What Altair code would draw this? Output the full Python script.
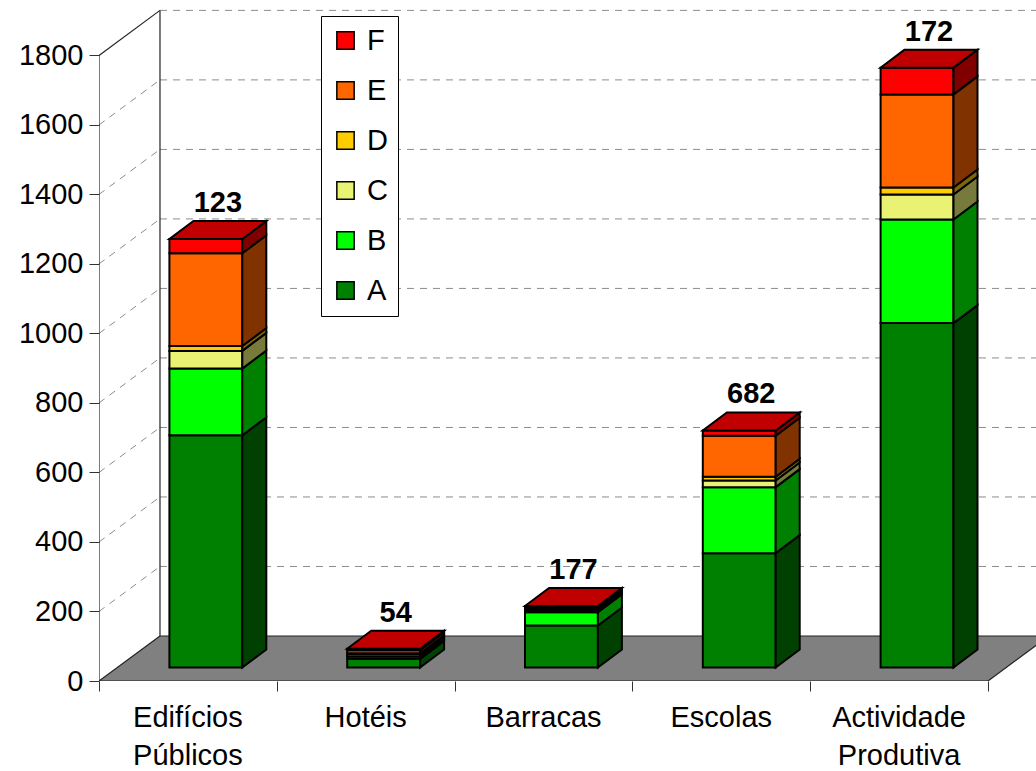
import altair as alt
import pandas as pd

# ---------------- data ----------------
categories = ["Edifícios Públicos", "Hotéis", "Barracas", "Escolas", "Actividade Produtiva"]
series_names = ["A", "B", "C", "D", "E", "F"]
A = [668, 25, 121, 329, 991]
B = [192, 7, 38, 190, 298]
C = [51, 6, 6, 19, 72]
D = [14, 3, 3, 11, 20]
E = [267, 9, 5, 118, 268]
F = [41, 4, 4, 15, 77]
total_labels = ["123", "54", "177", "682", "172"]
y_ticks = [0, 200, 400, 600, 800, 1000, 1200, 1400, 1600, 1800]
x_ticks = [0, 1, 2, 3, 4, 5]

# ---------------- styles ----------------
front_colors = {"A": "#008000", "B": "#00FF00", "C": "#EAF274",
                "D": "#FFCC00", "E": "#FF6600", "F": "#FF0000"}
side_colors = {"A": "#004000", "B": "#008000", "C": "#767A3A",
               "D": "#806600", "E": "#803300", "F": "#800000"}
top_color = "#C00000"
FONT = "Liberation Sans, Arial, sans-serif"

# 3D geometry, in data units (x: one unit per category, y: value units)
BAR_W = 0.41
SX, SY = 0.101, 38.8       # front plane of the bars
BDX, BDY = 0.135, 51.8     # depth of a bar
WDX, WDY = 0.343, 129.5    # depth of the walls / floor
XMAX, YMAX = 5.27, 1945
W, H = 937, 676

values = {"A": A, "B": B, "C": C, "D": D, "E": E, "F": F}
rows = []
for i, cat in enumerate(categories):
    base = 0
    for s in series_names:
        v = values[s][i]
        rows.append(dict(cat=cat, idx=i, series=s, v0=base, v1=base + v))
        base += v
seg = pd.DataFrame(rows)
seg["xl"] = seg.idx + 0.5 - BAR_W / 2 + SX
seg["xr"] = seg.xl + BAR_W
seg["y0"] = seg.v0 + SY
seg["y1"] = seg.v1 + SY

side_rows = []
top_rows = []
for _, r in seg.iterrows():
    for t in (0, 1):
        side_rows.append(dict(key=f"{r.idx}-{r.series}", series=r.series,
                              x=r.xr + t * BDX, lo=r.y0 + t * BDY, hi=r.y1 + t * BDY))
        if r.series == series_names[-1]:
            top_rows.append(dict(key=r.idx, y=r.y1 + t * BDY,
                                 xa=r.xl + t * BDX, xb=r.xr + t * BDX))
side_df = pd.DataFrame(side_rows)
top_df = pd.DataFrame(top_rows)

totals = seg.groupby("idx").v1.max().reset_index()
totals["label"] = total_labels
totals["x"] = totals.idx + 0.5 + SX + BDX / 2
totals["y"] = totals.v1 + SY + BDY

n = len(categories)
cat_df = pd.DataFrame({"x": [i + 0.5 for i in range(n)], "cat": categories})

xs = alt.Scale(domain=[0, XMAX], nice=False, zero=False)
ys = alt.Scale(domain=[0, YMAX], nice=False, zero=False)
xaxis = alt.Axis(values=x_ticks, tickSize=10, tickColor="#333333", labels=False,
                 domain=False, grid=False, title=None)
yaxis = alt.Axis(values=y_ticks, format="d", tickSize=10, tickColor="#333333",
                 labelFontSize=29, labelFont=FONT, labelColor="black", labelPadding=6,
                 domain=False, grid=False, title=None)


def X(f):
    return alt.X(f, scale=xs, axis=xaxis, stack=None)


def Y(f):
    return alt.Y(f, scale=ys, axis=yaxis, stack=None)


# ---------------- floor and walls ----------------
floor_df = pd.DataFrame({"x": [0, WDX, n, n + WDX],
                         "lo": [0, 0, 0, WDY], "hi": [0, WDY, WDY, WDY]})
floor = alt.Chart(floor_df).mark_area(color="#808080", orient="vertical", clip=True).encode(
    x=X("x:Q"), y=Y("lo:Q"), y2="hi:Q")

back_grid_df = pd.DataFrame({"v": [v + WDY for v in y_ticks[1:]], "x": WDX, "x2": XMAX})
back_grid = alt.Chart(back_grid_df).mark_rule(color="#8c8c8c", strokeDash=[7, 6], strokeWidth=1).encode(
    x=X("x:Q"), x2="x2:Q", y=Y("v:Q"))

left_grid_df = pd.DataFrame({"v": y_ticks[1:-1]})
left_grid_df["v2"] = left_grid_df.v + WDY
left_grid_df["x"] = 0
left_grid_df["x2"] = WDX
left_grid = alt.Chart(left_grid_df).mark_rule(color="#8c8c8c", strokeDash=[7, 6], strokeWidth=1).encode(
    x=X("x:Q"), x2="x2:Q", y=Y("v:Q"), y2="v2:Q")

edge_df = pd.DataFrame([
    dict(x=0, x2=WDX, y=0, y2=WDY),                              # floor left edge
    dict(x=0, x2=WDX, y=y_ticks[-1], y2=y_ticks[-1] + WDY),      # left wall top edge
    dict(x=WDX, x2=WDX, y=WDY, y2=y_ticks[-1] + WDY),            # back wall left edge
    dict(x=WDX, x2=XMAX, y=WDY, y2=WDY),                         # floor back edge
    dict(x=n, x2=n + WDX, y=0, y2=WDY),                          # floor right edge
    dict(x=0, x2=n, y=0, y2=0),                                  # front axis
    dict(x=0, x2=0, y=0, y2=y_ticks[-1]),                        # value axis
])
edges = alt.Chart(edge_df).mark_rule(color="#222222", strokeWidth=1.2, clip=True).encode(
    x=X("x:Q"), x2="x2:Q", y=Y("y:Q"), y2="y2:Q")

# ---------------- bars ----------------
front = alt.Chart(seg).mark_rect(stroke="black", strokeWidth=2).encode(
    x=X("xl:Q"), x2="xr:Q", y=Y("y0:Q"), y2="y1:Q",
    color=alt.Color("series:N",
                    scale=alt.Scale(domain=series_names[::-1],
                                    range=[front_colors[s] for s in series_names[::-1]]),
                    legend=alt.Legend(title=None, orient="none", legendX=222, legendY=11,
                                      symbolType="square", symbolSize=300,
                                      symbolStrokeColor="black", symbolStrokeWidth=1.5,
                                      labelFontSize=29, labelFont=FONT, labelColor="black",
                                      labelOffset=7, rowPadding=20, padding=10,
                                      strokeColor="black", fillColor="white")))

side = alt.Chart(side_df).mark_area(stroke="black", strokeWidth=2, orient="vertical").encode(
    x=X("x:Q"), y=Y("lo:Q"), y2="hi:Q", detail="key:N",
    fill=alt.Fill("series:N",
                  scale=alt.Scale(domain=series_names,
                                  range=[side_colors[s] for s in series_names]),
                  legend=None))

top = alt.Chart(top_df).mark_area(color=top_color, stroke="black", strokeWidth=2,
                                  orient="horizontal").encode(
    y=Y("y:Q"), x=X("xa:Q"), x2="xb:Q", detail="key:N")

total_text = alt.Chart(totals).mark_text(dy=-9, baseline="alphabetic", fontWeight="bold",
                                         fontSize=29, font=FONT, color="black").encode(
    x=X("x:Q"), y=Y("y:Q"), text="label:N")

cat_text = alt.Chart(cat_df).mark_text(lineBreak=" ", lineHeight=38, baseline="alphabetic",
                                       fontSize=29, font=FONT, color="black").encode(
    x=X("x:Q"), y=alt.value(722), text="cat:N")

chart = alt.layer(floor, back_grid, left_grid, edges, front, side, top, total_text, cat_text).properties(
    width=W, height=H,
    padding={"left": 99, "top": 5, "right": 0, "bottom": 90},
    autosize=alt.AutoSizeParams(type="none"),
    background="white",
).configure_view(strokeWidth=0)

chart.save("out.html", embed_options={"renderer": "svg", "actions": False})
